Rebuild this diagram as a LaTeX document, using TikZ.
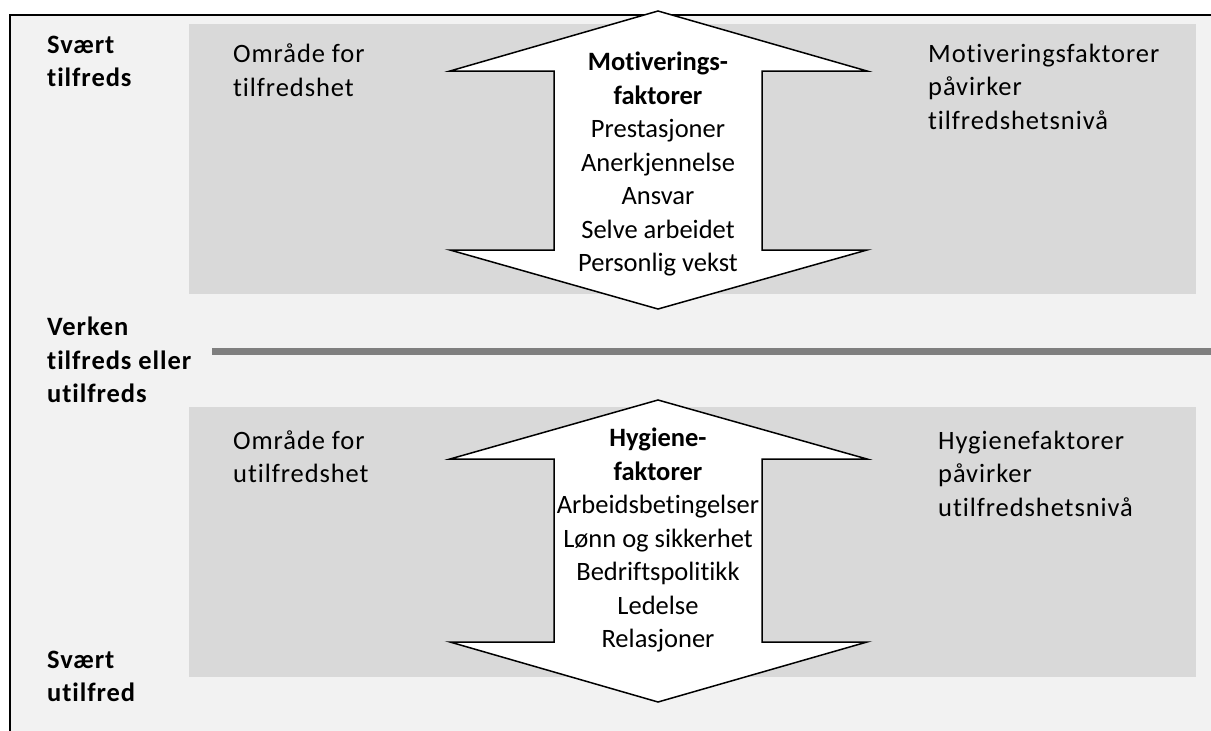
\documentclass[tikz,border=0pt]{standalone}
\usepackage{fontspec}
\setmainfont[Ligatures=NoCommon]{Carlito}
\newfontfamily\sidefont[LetterSpace=3.5,Ligatures=NoCommon]{Carlito}
\usepackage{tikz}

\definecolor{bakgrunn}{HTML}{F2F2F2}
\definecolor{felt}{HTML}{D9D9D9}
\definecolor{skille}{HTML}{7F7F7F}

\begin{document}
\begin{tikzpicture}[x=1pt,y=-1pt,
    tekst/.style={inner sep=0pt,align=left,anchor=west,font=\sidefont\fontsize{26.5}{33.5}\selectfont},
    nivaa/.style={tekst,font=\sidefont\fontsize{26.5}{33.5}\selectfont\bfseries},
    liste/.style={inner sep=0pt,align=center,font=\fontsize{26.5}{33.5}\selectfont},
    pil/.style={fill=white,draw=black,line width=1.5pt,line join=miter}]
        \useasboundingbox (0,0) rectangle (1211,731);
        % bakgrunn og ramme
        \fill[bakgrunn] (10,15) rectangle (1211,731);
        \draw[line width=1.5pt] (10,731) -- (10,15) -- (1211,15);
        % graa felt
        \fill[felt] (189,24) rectangle (1196,294);
        \fill[felt] (189,407) rectangle (1196,677);
        % skillelinje
        \draw[skille,line width=6.5pt] (212,351.5) -- (1211,351.5);
        % doble piler
        \draw[pil] (658,11) -- (867,71) -- (762,71) -- (762,250) -- (867,250) -- (658,309)
            -- (450,250) -- (554,250) -- (554,71) -- (450,71) -- cycle;
        \draw[pil] (658,400) -- (867,459) -- (762,459) -- (762,642) -- (867,642) -- (658,702)
            -- (450,642) -- (554,642) -- (554,459) -- (450,459) -- cycle;
        % nivaa til venstre
        \node[nivaa] (svtilfreds) at (47,61.5) {Svært\\tilfreds};
        \node[nivaa] (verken) at (47,360) {Verken\\tilfreds eller\\utilfreds};
        \node[nivaa] (svutilfred) at (47,676.5) {Svært\\utilfred};
        % omraader
        \node[tekst] (omrtilf) at (233,70) {Område for\\tilfredshet};
        \node[tekst] (omrutilf) at (233,456.5) {Område for\\utilfredshet};
        \node[tekst] (motivtxt) at (928,86.5) {Motiveringsfaktorer\\påvirker\\tilfredshetsnivå};
        \node[tekst] (hygtxt) at (938,473.5) {Hygienefaktorer\\påvirker\\utilfredshetsnivå};
        % faktorer i pilene
        \node[liste] (motivliste) at (658,164) {\textbf{Motiverings-}\\\textbf{faktorer}\\Prestasjoner\\Anerkjennelse\\Ansvar\\Selve arbeidet\\Personlig vekst};
        \node[liste] (hygliste) at (658,540) {\textbf{Hygiene-}\\\textbf{faktorer}\\Arbeidsbetingelser\\Lønn og sikkerhet\\Bedriftspolitikk\\Ledelse\\Relasjoner};
\end{tikzpicture}
\end{document}
